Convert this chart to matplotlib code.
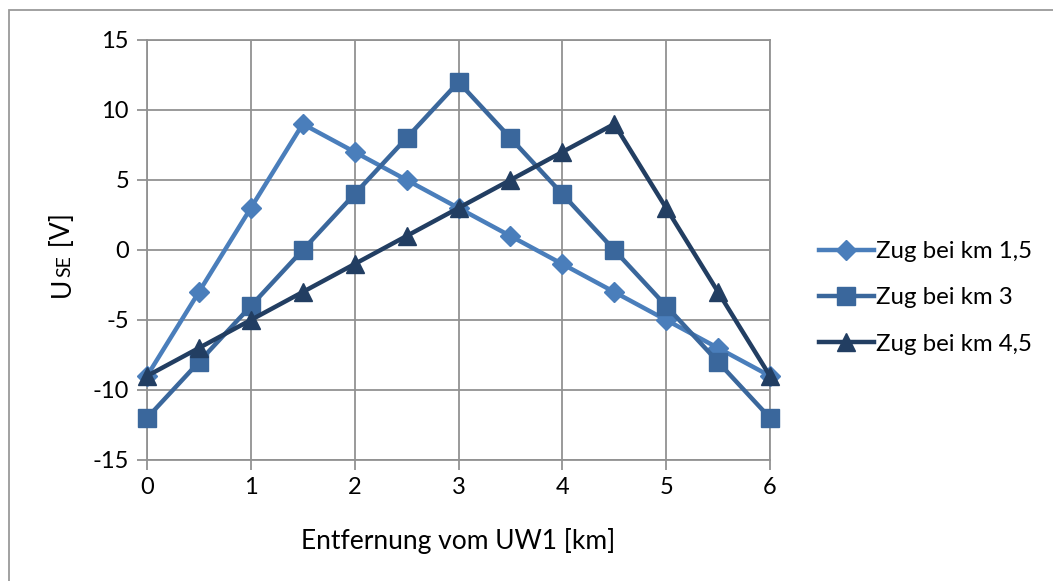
import matplotlib
matplotlib.use("Agg")
import matplotlib.pyplot as plt
from matplotlib.patches import Rectangle

plt.rcParams['font.family'] = ['Lato', 'DejaVu Sans']

distance_km = [0, 0.5, 1, 1.5, 2, 2.5, 3, 3.5, 4, 4.5, 5, 5.5, 6]
zug_km_1_5 = [-9, -3, 3, 9, 7, 5, 3, 1, -1, -3, -5, -7, -9]
zug_km_3 = [-12, -8, -4, 0, 4, 8, 12, 8, 4, 0, -4, -8, -12]
zug_km_4_5 = [-9, -7, -5, -3, -1, 1, 3, 5, 7, 9, 3, -3, -9]
series_labels = ["Zug bei km 1,5", "Zug bei km 3", "Zug bei km 4,5"]
x_ticks = [0, 1, 2, 3, 4, 5, 6]
y_ticks = [-15, -10, -5, 0, 5, 10, 15]
x_label = "Entfernung vom UW1 [km]"

W, H = 1053, 581
fig = plt.figure(figsize=(W / 100, H / 100), dpi=100)
ax = fig.add_axes([147 / W, 1 - 460 / H, (770 - 147) / W, (460 - 40) / H])

# outer chart frame (only top and left edges fall inside the canvas)
fig.patches.append(Rectangle((9 / W, -0.1), 1.2, 1 - 10 / H + 0.1, transform=fig.transFigure,
                             fill=False, edgecolor='#9a9a9a', linewidth=1.3))

colors = ['#4A7EBB', '#3A679C', '#223E62']
markers = ['D', 's', '^']
msizes = [10, 12.5, 12.5]
for ys, c, m, ms, lab in zip([zug_km_1_5, zug_km_3, zug_km_4_5], colors, markers, msizes, series_labels):
    ax.plot(distance_km, ys, color=c, lw=3.2, marker=m, markersize=ms,
            markeredgecolor=c, markerfacecolor=c, label=lab, zorder=3, clip_on=False)

ax.set_xlim(0, 6)
ax.set_ylim(-15, 15)
ax.set_xticks(x_ticks)
ax.set_yticks(y_ticks)
ax.set_yticklabels([str(v) for v in y_ticks])
ax.grid(True, color='#929292', linewidth=1.3, zorder=0)
for s in ax.spines.values():
    s.set_color('#929292')
    s.set_linewidth(1.3)
ax.tick_params(axis='both', length=7, width=1.3, color='#929292', labelsize=17, pad=6)
ax.tick_params(axis='x', pad=5)

ax.set_xlabel(x_label, fontsize=19, labelpad=22)

# y label with small-caps "SE"
fig.canvas.draw()
r = fig.canvas.get_renderer()
xpos = 62 / W
t1 = fig.text(xpos, 1 - 297 / H, "U", rotation=90, fontsize=19, ha='center', va='bottom')
bb = t1.get_window_extent(r)
t2 = fig.text(xpos + 3 / W, (bb.y1 + 1) / H, "SE", rotation=90, fontsize=14, ha='center', va='bottom')
bb2 = t2.get_window_extent(r)
t3 = fig.text(xpos, (bb2.y1 + 1) / H, " [V]", rotation=90, fontsize=19, ha='center', va='bottom')

ax.legend(loc='center left', bbox_to_anchor=(797 / W, 1 - 298 / H), bbox_transform=fig.transFigure,
          frameon=False, fontsize=17.3, handlelength=2.3, handletextpad=0.1, labelspacing=1.05,
          markerscale=1.0)

fig.savefig("out.png", dpi=100)
